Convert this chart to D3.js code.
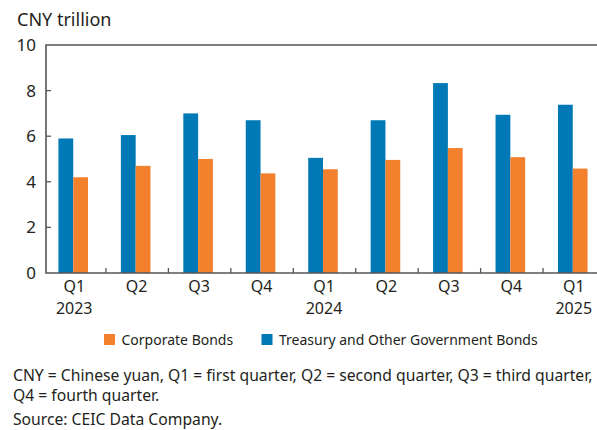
<!DOCTYPE html>
<html>
<head>
<meta charset="utf-8">
<script src="https://cdn.jsdelivr.net/npm/d3@7"></script>
<style>
  body { margin: 0; background: #fff; }
  svg { display: block; font-family: "Noto Sans", Lato, sans-serif; }
</style>
</head>
<body>
<div id="chart"></div>
<script>
// chart data
var quarters = ['Q1', 'Q2', 'Q3', 'Q4', 'Q1', 'Q2', 'Q3', 'Q4', 'Q1'];
var years = ['2023', '', '', '', '2024', '', '', '', '2025'];
var treasury = [5.9, 6.05, 7.0, 6.7, 5.05, 6.7, 8.33, 6.94, 7.38];
var corporate = [4.2, 4.7, 5.0, 4.37, 4.55, 4.96, 5.48, 5.08, 4.58];
var yTicks = [0, 2, 4, 6, 8, 10];
var seriesNames = ['Corporate Bonds', 'Treasury and Other Government Bonds'];

var svgWidth = 597;
var svgHeight = 430;
var blue = '#0079b6';
var orange = '#f3802d';
var axisColor = '#555';
var textColor = '#231f20';

var svg = d3.select('#chart')
    .append('svg')
    .attr('width', svgWidth)
    .attr('height', svgHeight);

// scales
var x = d3.scaleBand()
    .domain(d3.range(quarters.length))
    .range([42, 604]);

var y = d3.scaleLinear()
    .domain([0, 10])
    .range([273, 45]);

var barW = 14.8;

// y tick labels and inward ticks
svg.selectAll('.ylab')
    .data(yTicks)
    .enter()
    .append('text')
    .attr('x', 36)
    .attr('y', d => y(d) + 6)
    .attr('text-anchor', 'end')
    .attr('font-size', 17)
    .attr('fill', textColor)
    .text(d => d);

svg.selectAll('.ytick')
    .data(yTicks.slice(1, -1))
    .enter()
    .append('line')
    .attr('x1', 46)
    .attr('x2', 51)
    .attr('y1', d => y(d))
    .attr('y2', d => y(d))
    .attr('stroke', axisColor)
    .attr('stroke-width', 1.3);

// bars
svg.selectAll('.tbar')
    .data(treasury)
    .enter()
    .append('rect')
    .attr('x', (d, i) => x(i) + x.bandwidth() / 2 - barW)
    .attr('y', d => y(d))
    .attr('width', barW)
    .attr('height', d => y(0) - y(d))
    .attr('fill', blue);

svg.selectAll('.cbar')
    .data(corporate)
    .enter()
    .append('rect')
    .attr('x', (d, i) => x(i) + x.bandwidth() / 2)
    .attr('y', d => y(d))
    .attr('width', barW)
    .attr('height', d => y(0) - y(d))
    .attr('fill', orange);

// x ticks between groups
svg.selectAll('.xtick')
    .data(d3.range(1, quarters.length))
    .enter()
    .append('line')
    .attr('x1', d => x(d) + 1.5)
    .attr('x2', d => x(d) + 1.5)
    .attr('y1', y(0))
    .attr('y2', y(0) - 5)
    .attr('stroke', axisColor)
    .attr('stroke-width', 1.3);

// axis frame: left, top, bottom
svg.append('path')
    .attr('d', `M${svgWidth},${y(10)}H46V${y(0)}H${svgWidth}`)
    .attr('fill', 'none')
    .attr('stroke', axisColor)
    .attr('stroke-width', 1.6);

// x labels: quarter, year underneath
svg.selectAll('.qlab')
    .data(quarters)
    .enter()
    .append('text')
    .attr('x', (d, i) => x(i) + x.bandwidth() / 2 + 1)
    .attr('y', 292)
    .attr('text-anchor', 'middle')
    .attr('font-size', 16)
    .attr('fill', textColor)
    .text(d => d);

svg.selectAll('.yrlab')
    .data(years)
    .enter()
    .append('text')
    .attr('x', (d, i) => x(i) + x.bandwidth() / 2 + 1)
    .attr('y', 314)
    .attr('text-anchor', 'middle')
    .attr('font-size', 16)
    .attr('fill', textColor)
    .text(d => d);

// unit label
svg.append('text')
    .attr('x', 17)
    .attr('y', 26)
    .attr('font-size', 18)
    .attr('fill', textColor)
    .text('CNY trillion');

// legend
var legendX = [104, 261.5];
var legendColors = [orange, blue];
var legend = svg.selectAll('.leg')
    .data(seriesNames)
    .enter()
    .append('g')
    .attr('transform', (d, i) => `translate(${legendX[i]}, 334)`);

legend.append('rect')
    .attr('width', 11)
    .attr('height', 11)
    .attr('fill', (d, i) => legendColors[i]);

legend.append('text')
    .attr('x', 17.5)
    .attr('y', 10.5)
    .attr('font-size', 14)
    .attr('fill', textColor)
    .text(d => d);

// notes
var notes = [
    'CNY = Chinese yuan, Q1 = first quarter, Q2 = second quarter, Q3 = third quarter,',
    'Q4 = fourth quarter.',
    'Source: CEIC Data Company.'
];
var noteY = [381, 401, 424.5];
svg.selectAll('.note')
    .data(notes)
    .enter()
    .append('text')
    .attr('x', 13)
    .attr('y', (d, i) => noteY[i])
    .attr('font-size', 15.7)
    .attr('fill', textColor)
    .text(d => d);
</script>
</body>
</html>
